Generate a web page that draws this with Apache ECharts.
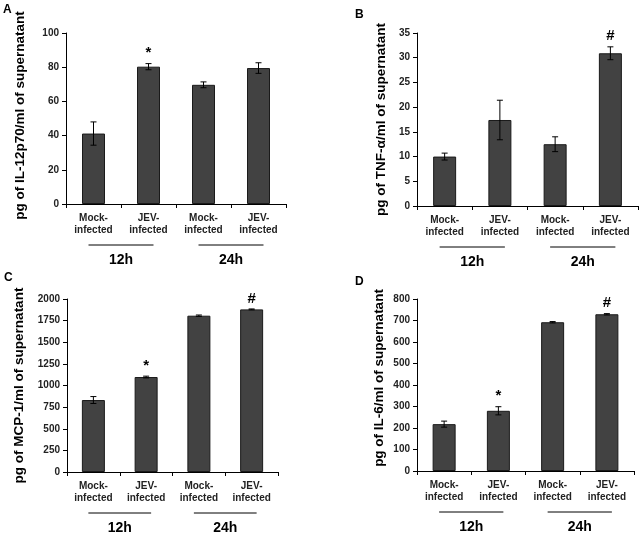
<!DOCTYPE html>
<html>
<head>
<meta charset="utf-8">
<script src="https://cdn.jsdelivr.net/npm/echarts@6/dist/echarts.min.js"></script>
<style>
html,body{margin:0;padding:0;background:#fff;}
#chart{width:643px;height:535px;}
</style>
</head>
<body>
<div id="chart"></div>
<script>
// ---- data ----
const categories = ['Mock-\ninfected', 'JEV-\ninfected', 'Mock-\ninfected', 'JEV-\ninfected'];
const groupLabels = ['12h', '24h'];
const groupSpans = [[0, 1], [2, 3]];
const panelLetters = ['A', 'B', 'C', 'D'];
const yTitles = [
  'pg of IL-12p70/ml of supernatant',
  'pg of TNF-\u03b1/ml of supernatant',
  'pg of MCP-1/ml of supernatant',
  'pg of IL-6/ml of supernatant'
];
const il12Means = [41.2, 80.3, 69.7, 79.5];
const il12Err = [6.8, 1.8, 1.7, 3.1];
const il12Marks = ['', '*', '', ''];
const tnfMeans = [10.0, 17.4, 12.5, 30.9];
const tnfErr = [0.7, 4.0, 1.5, 1.3];
const tnfMarks = ['', '', '', '#'];
const mcpMeans = [832, 1098, 1807, 1880];
const mcpErr = [40, 10, 8, 5];
const mcpMarks = ['', '*', '', '#'];
const il6Means = [218, 280, 692, 729];
const il6Err = [14, 19, 3, 3];
const il6Marks = ['', '*', '', '#'];
const yMax = [100, 35, 2000, 800];
const yInterval = [20, 5, 250, 100];

const allMeans = [il12Means, tnfMeans, mcpMeans, il6Means];
const allErr = [il12Err, tnfErr, mcpErr, il6Err];
const allMarks = [il12Marks, tnfMarks, mcpMarks, il6Marks];

// ---- layout ----
const FONT = '"Liberation Sans", Arial, sans-serif';
const grids = [
  {left: 66, top: 33, width: 220, height: 171},
  {left: 417, top: 33, width: 221, height: 173},
  {left: 67, top: 299, width: 211, height: 173},
  {left: 417, top: 299, width: 217, height: 172}
];
const nameGaps = [39, 29, 41, 31];
const namePads = [[0, 0, 0, 6], [0, 0, 0, 0], [0, 0, 0, 0], [0, 0, 0, 14]];
const letterPos = [[3, 4], [355, 9], [4, 272], [355, 276]];

const chart = echarts.init(document.getElementById('chart'));

const xAxes = [], yAxes = [], series = [], graphics = [];
for (let p = 0; p < 4; p++) {
  xAxes.push({
    type: 'category', gridIndex: p, data: categories,
    axisLine: {lineStyle: {color: '#000', width: 1}},
    axisTick: {show: true, length: 4, lineStyle: {color: '#000'}},
    axisLabel: {interval: 0, fontFamily: FONT, fontWeight: 'bold', fontSize: 10, color: '#222', lineHeight: 12, margin: 8}
  });
  yAxes.push({
    type: 'value', gridIndex: p, min: 0, max: yMax[p], interval: yInterval[p],
    splitLine: {show: false},
    axisLine: {show: true, lineStyle: {color: '#000', width: 1}},
    axisTick: {show: true, length: 4, lineStyle: {color: '#000'}},
    axisLabel: {fontFamily: FONT, fontWeight: 'bold', fontSize: 10, color: '#222', margin: 7,
      formatter: v => String(v)},
    name: yTitles[p], nameLocation: 'middle', nameRotate: 90, nameGap: nameGaps[p],
    nameTextStyle: {fontFamily: FONT, fontWeight: 'bold', fontSize: 13.5, color: '#000', padding: namePads[p]}
  });
  series.push({
    type: 'bar', xAxisIndex: p, yAxisIndex: p, data: allMeans[p], barWidth: 23,
    itemStyle: {color: '#424242', borderColor: '#1a1a1a', borderWidth: 1},
    silent: true
  });
  const marks = allMarks[p];
  series.push({
    type: 'custom', xAxisIndex: p, yAxisIndex: p,
    data: allMeans[p].map((m, i) => [i, m, allErr[p][i]]),
    encode: {x: 0, y: 1},
    z: 5, silent: true,
    renderItem: function (params, api) {
      const x = api.value(0), m = api.value(1), e = api.value(2);
      const hi = api.coord([x, m + e]);
      const lo = api.coord([x, m - e]);
      const cap = 3;
      const st = {stroke: '#000', lineWidth: 1};
      const children = [
        {type: 'line', shape: {x1: hi[0], y1: hi[1], x2: lo[0], y2: lo[1]}, style: st},
        {type: 'line', shape: {x1: hi[0] - cap, y1: hi[1], x2: hi[0] + cap, y2: hi[1]}, style: st},
        {type: 'line', shape: {x1: lo[0] - cap, y1: lo[1], x2: lo[0] + cap, y2: lo[1]}, style: st}
      ];
      const mk = marks[params.dataIndex];
      if (mk) {
        children.push({
          type: 'text',
          style: {text: mk, x: hi[0], y: hi[1] - 3, align: 'center', verticalAlign: 'bottom',
            font: 'bold 15px ' + FONT, fill: '#000'}
        });
      }
      return {type: 'group', children: children};
    }
  });
  series.push({
    type: 'custom', xAxisIndex: p, yAxisIndex: p,
    data: groupSpans.map((g, i) => [g[0], 0, g[1], i]),
    encode: {x: 0, y: 1},
    silent: true, clip: false,
    renderItem: function (params, api) {
      const a = api.coord([api.value(0), 0]);
      const b = api.coord([api.value(2), 0]);
      const y = a[1];
      return {
        type: 'group', children: [
          {type: 'line', shape: {x1: a[0] - 5, y1: y + 41, x2: b[0] + 5, y2: y + 41}, style: {stroke: '#000', lineWidth: 1}},
          {type: 'text', style: {text: groupLabels[api.value(3)], x: (a[0] + b[0]) / 2, y: y + 56,
            align: 'center', verticalAlign: 'middle', font: 'bold 14px ' + FONT, fill: '#000'}}
        ]
      };
    }
  });
  graphics.push({
    type: 'text', left: letterPos[p][0], top: letterPos[p][1],
    style: {text: panelLetters[p], font: 'bold 12px ' + FONT, fill: '#000'}
  });
}

chart.setOption({
  animation: false,
  backgroundColor: '#fff',
  grid: grids,
  xAxis: xAxes,
  yAxis: yAxes,
  series: series,
  graphic: graphics
});
</script>
</body>
</html>
